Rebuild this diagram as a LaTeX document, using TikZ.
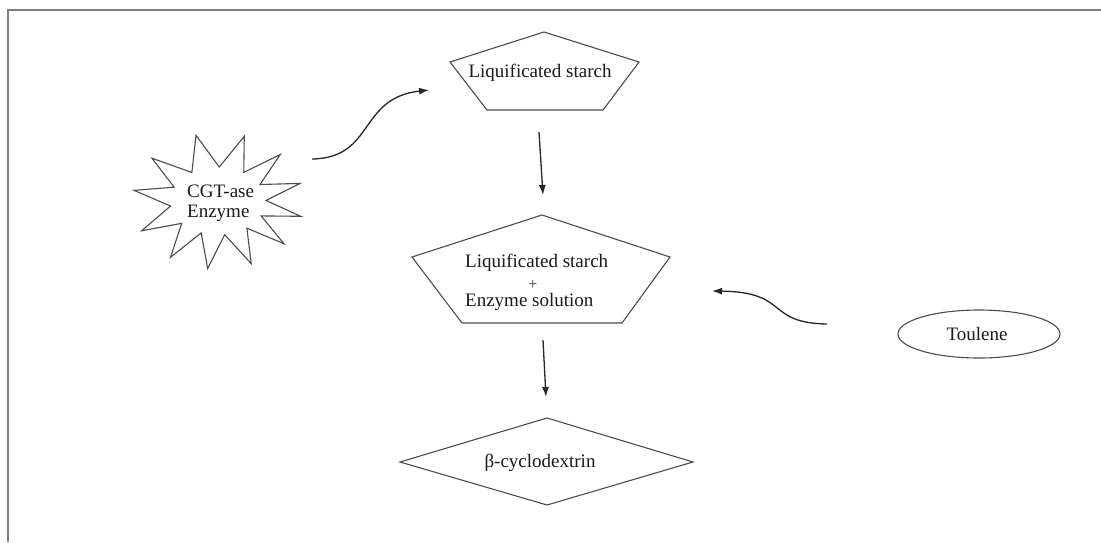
\documentclass[tikz,border=0pt]{standalone}
\usepackage{fontspec}
\setmainfont{Liberation Serif}
\usetikzlibrary{arrows.meta}
\begin{document}
\begin{tikzpicture}[x=1pt,y=-1pt,
  shapeline/.style={draw=black!70, line width=1.1pt, line join=miter},
  flow/.style={draw=black!85, line width=1.3pt, -{Latex[length=10pt,width=7pt]}},
  lbl/.style={font=\fontsize{19}{20}\selectfont, text=black!90, inner sep=0pt},
  plus/.style={font=\fontsize{16}{17}\selectfont, text=black!80, inner sep=0pt},
  frameline/.style={draw=black!50, line width=2pt}]
\useasboundingbox (0,0) rectangle (1101,542);
\fill[white] (0,0) rectangle (1101,542);
\draw[frameline] (8,542) -- (8,10) -- (1101,10);

% star (CGT-ase Enzyme)
\begin{scope}[shift={(218,201)}]
\draw[shapeline] (-72:85 and 68)
  \foreach \a/\b in {105/88.5, 141/123, 171/156, 206/188.5, 236/221, 263/249.5, 293/278, 321/307, 347/334, 375/361, 403/389, 432/417.5}
  { -- (-\b:48 and 34) -- (-\a:85 and 68) } -- cycle;
\end{scope}
\node[lbl, anchor=base west] (cgt) at (187,197) {CGT-ase};
\node[lbl, anchor=base west] (enz) at (187,217) {Enzyme};

% pentagon 1
\draw[shapeline] (544,32) -- (639,62) -- (603,110) -- (487,110) -- (450,62) -- cycle;
\node[lbl, anchor=base] (ls1) at (540,77) {Liquificated starch};

% pentagon 2
\draw[shapeline] (542,215) -- (670,257) -- (622,323) -- (462,323) -- (412,257) -- cycle;
\node[lbl, anchor=base west] (ls2) at (465,267) {Liquificated starch};
\node[plus, anchor=base] (pl) at (533,289) {+};
\node[lbl, anchor=base west] (es) at (465,306) {Enzyme solution};

% diamond
\draw[shapeline] (547,418) -- (693,462) -- (547,505) -- (400,462) -- cycle;
\node[lbl, anchor=base] (bcd) at (540,467) {β-cyclodextrin};

% ellipse
\draw[shapeline] (979,334) ellipse [x radius=81, y radius=24];
\node[lbl, anchor=base] (tol) at (977,340) {Toulene};

% connectors
\coordinate (a1s) at (312,159);
\coordinate (a1e) at (429,90);
\draw[flow] (a1s) .. controls (375,158) and (358,98) .. (a1e);

\coordinate (d1s) at (539,132);
\coordinate (d1e) at (543,195);
\draw[flow] (d1s) -- (d1e);

\coordinate (d2s) at (543,340);
\coordinate (d2e) at (546,397);
\draw[flow] (d2s) -- (d2e);

\coordinate (a2s) at (827,324);
\coordinate (a2e) at (712,291);
\draw[flow] (a2s) .. controls (765,323) and (790,292) .. (a2e);
\end{tikzpicture}
\end{document}
